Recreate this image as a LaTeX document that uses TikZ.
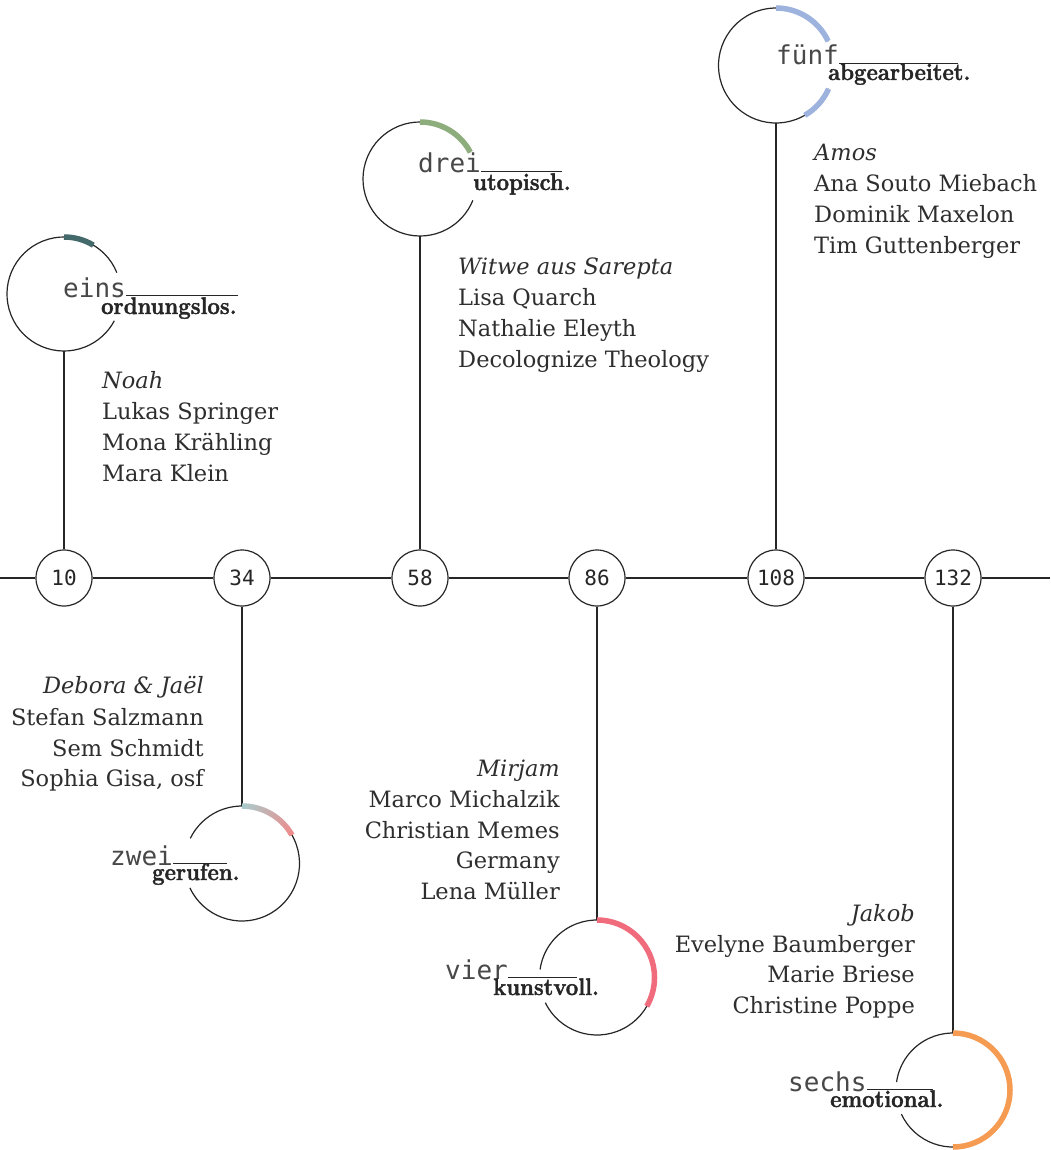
\documentclass[tikz,border=0pt]{standalone}
\usepackage{fontspec}
\setmainfont{DejaVu Serif}
\newfontfamily\monof{DejaVu Sans Mono}
\newfontfamily\didone{Latin Modern Roman}[BoldFeatures={FakeBold=1.6,FakeStretch=0.92}]
\definecolor{ink}{HTML}{262626}
\definecolor{txt}{HTML}{2E2E2E}
\definecolor{monoc}{HTML}{484848}
\definecolor{cEins}{HTML}{44696A}
\definecolor{cDrei}{HTML}{8DAD7C}
\definecolor{cFuenf}{HTML}{9DB2DD}
\definecolor{cVier}{HTML}{F06B7C}
\definecolor{cSechs}{HTML}{F59B52}
\definecolor{zA}{HTML}{A9CBCB}
\definecolor{zB}{HTML}{EE8C8C}
\begin{document}
\begin{tikzpicture}[x=1pt,y=1pt,
  ring/.style={line width=1.2pt, draw=ink},
  link/.style={line width=1.2pt, draw=ink},
  tick/.style={line width=0.9pt, draw=ink},
  accent/.style={line width=5.5pt, line cap=butt},
  numc/.style={circle, draw=ink, line width=1.2pt, fill=white, minimum size=56pt, inner sep=0pt,
    font=\monof\fontsize{21}{21}\selectfont, text=ink},
  big/.style={circle, minimum size=114pt, inner sep=0pt},
  names/.style={font=\fontsize{22.5}{31}\selectfont, text=txt, inner sep=0pt},
  stage/.style={font=\monof\fontsize{26}{26}\selectfont, text=monoc, inner sep=0pt, text depth=0pt, anchor=base west},
  word/.style={font=\didone\bfseries\fontsize{24}{24}\selectfont, text=ink, inner sep=0pt, anchor=base west}]
\fill[white] (0,0) rectangle (1050,-1150);
\useasboundingbox (0,0) rectangle (1050,-1150);

% timeline
\coordinate (tl) at (0,-578);
\coordinate (tr) at (1050,-578);
\node[numc] (n10) at (64,-578) {10};
\node[numc] (n34) at (242,-578) {34};
\node[numc] (n58) at (420,-578) {58};
\node[numc] (n86) at (597,-578) {86};
\node[numc] (n108) at (776,-578) {108};
\node[numc] (n132) at (953,-578) {132};
\draw[link] (tl) -- (n10) -- (n34) -- (n58) -- (n86) -- (n108) -- (n132) -- (tr);

% big circles (positions)
\node[big] (c1) at (64,-294) {};
\node[big] (c2) at (242,-863.5) {};
\node[big] (c3) at (420,-179) {};
\node[big] (c4) at (597,-977.5) {};
\node[big] (c5) at (776,-65.5) {};
\node[big] (c6) at (953,-1090) {};

% connectors
\draw[link] (c1) -- (n10);
\draw[link] (n34) -- (c2);
\draw[link] (c3) -- (n58);
\draw[link] (n86) -- (c4);
\draw[link] (c5) -- (n108);
\draw[link] (n132) -- (c6);

% rings (with gaps for the labels)
\draw[ring] (c1.center) ++(22:57) arc[start angle=22, end angle=332, radius=57];
\draw[ring] (c3.center) ++(28:57) arc[start angle=28, end angle=338, radius=57];
\draw[ring] (c5.center) ++(25:57.5) arc[start angle=25, end angle=336, radius=57.5];
\draw[ring] (c2.center) ++(205:57.5) arc[start angle=205, end angle=514, radius=57.5];
\draw[ring] (c4.center) ++(206:57.5) arc[start angle=206, end angle=532, radius=57.5];
\draw[ring] (c6.center) ++(205:57) arc[start angle=205, end angle=532, radius=57];

% coloured accents
\draw[accent, cEins] (c1.center) ++(90:57) arc[start angle=90, end angle=59, radius=57];
\draw[accent, cDrei] (c3.center) ++(90:57) arc[start angle=90, end angle=28, radius=57];
\draw[accent, cFuenf] (c5.center) ++(90:57.5) arc[start angle=90, end angle=25, radius=57.5];
\draw[accent, cFuenf] (c5.center) ++(-24:57.5) arc[start angle=-24, end angle=-60, radius=57.5];
\draw[accent, cVier] (c4.center) ++(90:57.5) arc[start angle=90, end angle=-30, radius=57.5];
\draw[accent, cSechs] (c6.center) ++(90:57) arc[start angle=90, end angle=-90, radius=57];
\foreach \i in {0,...,29} {
  \pgfmathsetmacro\p{100-\i*100/29}
  \pgfmathsetmacro\aa{90-2*\i}
  \pgfmathsetmacro\ab{90-2*\i-2.4}
  \draw[accent, color=zA!\p!zB] (c2.center) ++(\aa:57.5) arc[start angle=\aa, end angle=\ab, radius=57.5];
}

% stage labels
\node[stage] (s1) at (63,-297) {eins};
\node[word] (w1) at (101,-314) {ordnungslos.};
\coordinate (e1) at (238,-295.5);
\draw[tick] (s1.base east) ++(0,1.5) -- (e1);

\node[stage] (s3) at (418,-173) {drei};
\node[word] (w3) at (473,-190) {utopisch.};
\coordinate (e3) at (562,-171.5);
\draw[tick] (s3.base east) ++(0,1.5) -- (e3);

\node[stage] (s5) at (776,-65) {fünf};
\node[word] (w5) at (828,-80) {abgearbeitet.};
\coordinate (e5) at (958,-63.5);
\draw[tick] (s5.base east) ++(0,1.5) -- (e5);

\node[stage] (s2) at (110,-865) {zwei};
\node[word] (w2) at (152,-880) {gerufen.};
\coordinate (e2) at (227,-863.5);
\draw[tick] (s2.base east) ++(0,1.5) -- (e2);

\node[stage] (s4) at (445,-979) {vier};
\node[word] (w4) at (493,-995) {kunstvoll.};
\coordinate (e4) at (577,-977.5);
\draw[tick] (s4.base east) ++(0,1.5) -- (e4);

\node[stage] (s6) at (788,-1091) {sechs};
\node[word] (w6) at (830,-1107) {emotional.};
\coordinate (e6) at (933,-1089.5);
\draw[tick] (s6.base east) ++(0,1.5) -- (e6);

% name blocks
\node[names, anchor=base west] (a1) at (102,-388) {\itshape Noah};
\node[names, anchor=base west] (a2) at (102,-419) {Lukas Springer};
\node[names, anchor=base west] (a3) at (102,-450) {Mona Krähling};
\node[names, anchor=base west] (a4) at (102,-481) {Mara Klein};

\node[names, anchor=base west] (b1) at (458,-274) {\itshape Witwe aus Sarepta};
\node[names, anchor=base west] (b2) at (458,-305) {Lisa Quarch};
\node[names, anchor=base west] (b3) at (458,-336) {Nathalie Eleyth};
\node[names, anchor=base west] (b4) at (458,-367) {Decolognize Theology};

\node[names, anchor=base west] (d1) at (814,-161) {\itshape Amos};
\node[names, anchor=base west] (d2) at (814,-192) {Ana Souto Miebach};
\node[names, anchor=base west] (d3) at (814,-223) {Dominik Maxelon};
\node[names, anchor=base west] (d4) at (814,-254) {Tim Guttenberger};

\node[names, anchor=base east] (f1) at (204,-693) {\itshape Debora \& Jaël};
\node[names, anchor=base east] (f2) at (204,-725) {Stefan Salzmann};
\node[names, anchor=base east] (f3) at (204,-756) {Sem Schmidt};
\node[names, anchor=base east] (f4) at (204,-786) {Sophia Gisa, osf};

\node[names, anchor=base east] (g1) at (560,-776) {\itshape Mirjam};
\node[names, anchor=base east] (g2) at (560,-807) {Marco Michalzik};
\node[names, anchor=base east] (g3) at (560,-838) {Christian Memes};
\node[names, anchor=base east] (g4) at (560,-868) {Germany};
\node[names, anchor=base east] (g5) at (560,-899) {Lena Müller};

\node[names, anchor=base east] (h1) at (915,-921) {\itshape Jakob};
\node[names, anchor=base east] (h2) at (915,-952) {Evelyne Baumberger};
\node[names, anchor=base east] (h3) at (915,-982) {Marie Briese};
\node[names, anchor=base east] (h4) at (915,-1013) {Christine Poppe};
\end{tikzpicture}
\end{document}
